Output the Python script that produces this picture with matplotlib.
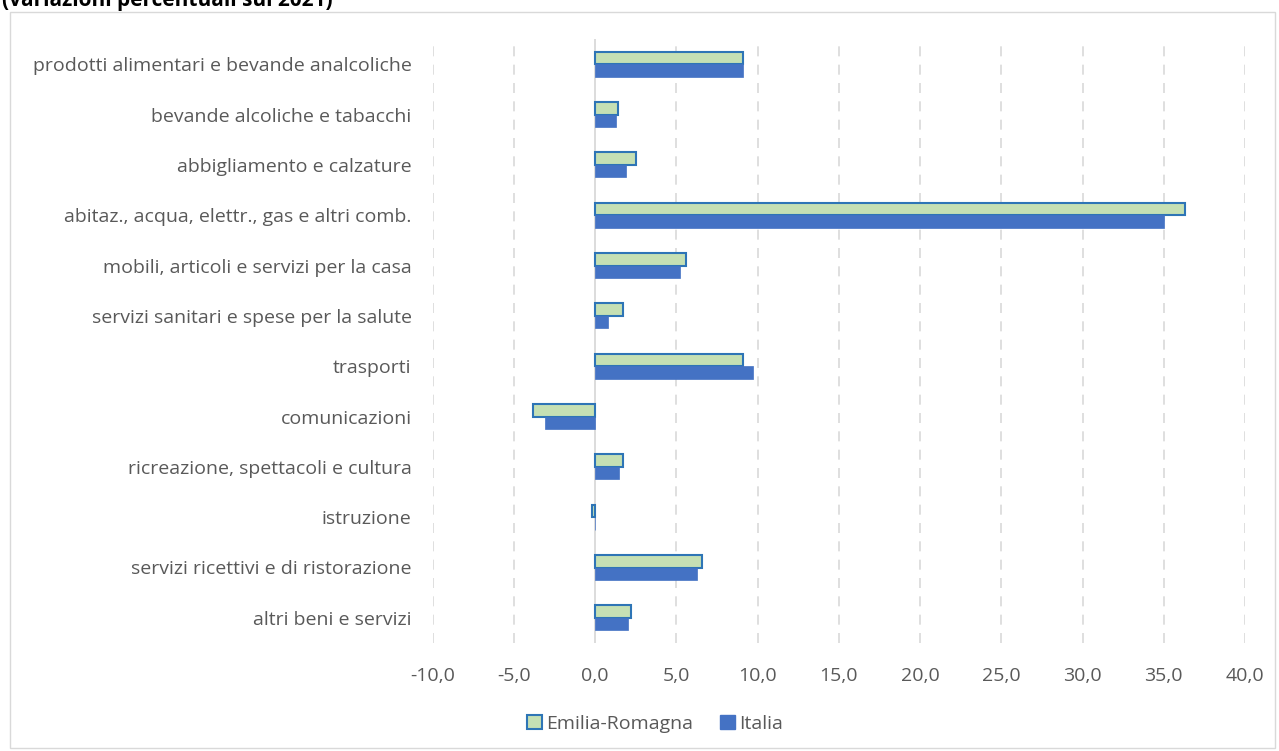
import numpy as np
import matplotlib
matplotlib.use("Agg")
import matplotlib.pyplot as plt
import matplotlib.ticker as mticker
from matplotlib.patches import Rectangle, Patch

CATEGORIES = [
    "prodotti alimentari e bevande analcoliche",
    "bevande alcoliche e tabacchi",
    "abbigliamento e calzature",
    "abitaz., acqua, elettr., gas e altri comb.",
    "mobili, articoli e servizi per la casa",
    "servizi sanitari e spese per la salute",
    "trasporti",
    "comunicazioni",
    "ricreazione, spettacoli e cultura",
    "istruzione",
    "servizi ricettivi e di ristorazione",
    "altri beni e servizi",
]
EMILIA_ROMAGNA = [9.1, 1.4, 2.5, 36.3, 5.6, 1.7, 9.1, -3.8, 1.7, -0.2, 6.6, 2.2]
ITALIA = [9.1, 1.3, 1.9, 35.0, 5.2, 0.8, 9.7, -3.1, 1.5, 0.0, 6.3, 2.0]
X_TICKS = [-10, -5, 0, 5, 10, 15, 20, 25, 30, 35, 40]

ER_FILL = "#C5E0B4"
ER_EDGE = "#2E75B6"
IT_FILL = "#4472C4"
TEXT = "#595959"
GRID = "#D9D9D9"

plt.rcParams["font.family"] = ["Open Sans", "DejaVu Sans"]

W, H = 1279, 751
fig = plt.figure(figsize=(W / 100, H / 100), dpi=100)

# outer chart border
fig.add_artist(Rectangle((10 / W, 0.004), 1 - 14 / W, 1 - 12 / H - 0.004,
                         transform=fig.transFigure, fill=False,
                         edgecolor=GRID, linewidth=1.0))

# title, cut at the top edge as in the source
fig.text(2 / W, 1 - 6 / H, "(variazioni percentuali sul 2021)",
         fontsize=15, fontweight="bold", color="black", va="baseline", ha="left")

ax = fig.add_axes([432.5 / W, 1 - 643 / H, (1245 - 432.5) / W, (643 - 39) / H])

n = len(CATEGORIES)
y = np.arange(n)
bh = 0.25
ax.barh(y - bh / 2, EMILIA_ROMAGNA, height=bh, color=ER_FILL,
        edgecolor=ER_EDGE, linewidth=1.5, zorder=3)
ax.barh(y + bh / 2, ITALIA, height=bh, color=IT_FILL, edgecolor=IT_FILL,
        linewidth=0.5, zorder=3)

ax.set_ylim(n - 0.5, -0.5)
ax.set_xlim(-10, 40)
ax.set_yticks(y)
ax.set_yticklabels(CATEGORIES)
ax.set_xticks(X_TICKS)
ax.xaxis.set_major_formatter(mticker.FuncFormatter(lambda v, _: f"{v:.1f}".replace(".", ",")))
ax.tick_params(axis="both", length=0, colors=TEXT, labelsize=14)
ax.tick_params(axis="y", pad=15)
ax.tick_params(axis="x", pad=17)

for s in ax.spines.values():
    s.set_visible(False)

for t in X_TICKS:
    if t == 0:
        ax.axvline(0, color=GRID, linewidth=1.3, zorder=2)
    else:
        ax.axvline(t, color=GRID, linewidth=1.2, linestyle=(0, (6, 5)), zorder=1)

handles = [Patch(facecolor=ER_FILL, edgecolor=ER_EDGE, linewidth=1.5, label="Emilia-Romagna"),
           Patch(facecolor=IT_FILL, edgecolor=IT_FILL, label="Italia")]
fig.legend(handles=handles, loc="center", bbox_to_anchor=(655 / W, 1 - 724 / H),
           ncol=2, frameon=False, fontsize=14, labelcolor=TEXT,
           handlelength=0.75, handleheight=0.75, handletextpad=0.2, columnspacing=1.4)

fig.savefig("out.png", dpi=100)
